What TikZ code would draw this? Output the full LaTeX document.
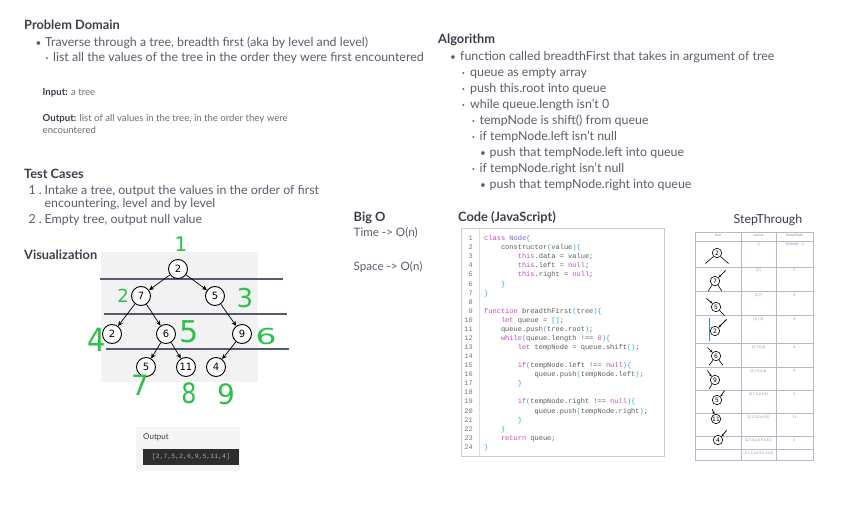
\documentclass[tikz,border=0pt]{standalone}
\usepackage{fontspec}
\setmainfont{Lato}
\newfontfamily\dejavu{DejaVu Sans}
\newfontfamily\monofam{Liberation Mono}
\usetikzlibrary{arrows.meta}
\definecolor{ink}{HTML}{3B3F4C}
\definecolor{bodyc}{HTML}{5A5E6C}
\definecolor{smallc}{HTML}{6A6E7A}
\definecolor{visbg}{HTML}{F2F2F2}
\definecolor{levc}{HTML}{555B6E}
\definecolor{hgreen}{HTML}{2CC04A}
\definecolor{kw}{HTML}{C24BC0}
\definecolor{cls}{HTML}{7B61D6}
\definecolor{br}{HTML}{2FA3D6}
\definecolor{codec}{HTML}{5A5A5A}
\definecolor{numc}{HTML}{777777}
\definecolor{codeborder}{HTML}{C9CBD0}
\definecolor{gridc}{HTML}{B4B8C8}
\definecolor{cellc}{HTML}{8A8E9A}
\definecolor{panelbg}{HTML}{F4F4F4}
\definecolor{darkbox}{HTML}{2D2D2D}
\definecolor{outtxt}{HTML}{9DB08A}
\definecolor{cursor}{HTML}{3A7BE0}
\newcommand\cf{\fontsize{7}{8}\selectfont\monofam}
\newcommand\K[1]{\textcolor{kw}{#1}}
\newcommand\B[1]{\textcolor{br}{#1}}
\newcommand\N[1]{\textcolor{cls}{#1}}
\begin{document}
\begin{tikzpicture}[x=1pt,y=-1pt,
 title/.style={anchor=base west,inner sep=0,font=\fontsize{12.8}{14}\selectfont\bfseries,text=ink},
 txt/.style={anchor=base west,inner sep=0,font=\fontsize{12.4}{14}\selectfont,text=bodyc},
 bul/.style={anchor=base,inner sep=0,font=\fontsize{10}{11}\selectfont,text=bodyc},
 small/.style={anchor=base west,inner sep=0,font=\fontsize{9.6}{11}\selectfont,text=smallc},
 code/.style={anchor=base west,inner sep=0,font=\cf,text=codec},
 lnum/.style={anchor=base east,inner sep=0,font=\cf,text=numc},
 tnode/.style={circle,draw=black,line width=0.9pt,fill=white,minimum size=19pt,inner sep=0,font=\fontsize{10}{10}\selectfont\dejavu},
 tedge/.style={-{Stealth[length=5pt,width=4.5pt]},line width=0.7pt},
 hand/.style={text=hgreen,inner sep=0,font=\dejavu},
 levline/.style={line width=1.6pt,draw=levc},
 cell/.style={inner sep=0,font=\fontsize{3.6}{4}\selectfont,text=cellc,anchor=base},
 mini/.style={circle,draw=black,line width=0.6pt,fill=white,minimum size=9.5pt,inner sep=0,font=\fontsize{6}{6}\selectfont\dejavu},
 stub/.style={line width=0.6pt},
 inarr/.style={{Stealth[length=2.5pt,width=2.5pt]}-,line width=0.7pt},
]
\useasboundingbox (0,0) rectangle (863,508);
\fill[white] (0,0) rectangle (863,508);

% ---------- Problem Domain ----------
\node[title] (pd) at (24,29.5) {Problem Domain};
\node[bul] (pdb1) at (38.5,46.5) {•};
\node[txt] (pd1) at (45,46.5) {Traverse through a tree, breadth first (aka by level and level)};
\node[bul] (pdb2) at (47,61.5) {\textbf{·}};
\node[txt] (pd2) at (53,61.5) {list all the values of the tree in the order they were first encountered};
\node[small] (inp) at (42.5,96) {\textbf{\textcolor{ink}{Input:}} a tree};
\node[small] (outp) at (42.5,121.5) {\textbf{\textcolor{ink}{Output:}} list of all values in the tree, in the order they were};
\node[small] (outp2) at (42.5,134) {encountered};

% ---------- Test Cases ----------
\node[title] (tc) at (24,178.3) {Test Cases};
\node[txt,anchor=base east] (tcn1) at (42,195) {1 .};
\node[txt] (tc1) at (44.5,195) {Intake a tree, output the values in the order of first};
\node[txt] (tc1b) at (44.5,207.7) {encountering, level and by level};
\node[txt,anchor=base east] (tcn2) at (42,224) {2 .};
\node[txt] (tc2) at (44.5,224) {Empty tree, output null value};

% ---------- Visualization ----------
\node[title] (vis) at (24,259.3) {Visualization};
\fill[visbg] (101,252) rectangle (258,382);
\draw[levline] (100,279) -- (283,279);
\draw[levline] (104,314) -- (287,314);
\draw[levline] (106,349) -- (289,349);
\node[tnode] (r) at (178,269) {2};
\node[tnode] (a) at (141,296) {7};
\node[tnode] (b) at (215,296) {5};
\node[tnode] (c) at (112,334) {2};
\node[tnode] (d) at (166,334) {6};
\node[tnode] (e) at (242,334) {9};
\node[tnode] (f) at (146,367) {5};
\node[tnode] (g) at (186,367) {11};
\node[tnode] (h) at (216,367) {4};
\draw[tedge] (r) -- (a);
\draw[tedge] (r) -- (b);
\draw[tedge] (a) -- (c);
\draw[tedge] (a) -- (d);
\draw[tedge] (b) -- (e);
\draw[tedge] (d) -- (f);
\draw[tedge] (d) -- (g);
\draw[tedge] (e) -- (h);
% handwritten order numbers
\node[hand,font=\fontsize{20}{20}\selectfont\dejavu] (h1) at (181,244) {1};
\node[hand,font=\fontsize{18}{18}\selectfont\dejavu] (h2) at (123,296) {2};
\node[hand,font=\fontsize{26}{26}\selectfont\dejavu] (h3) at (245,298) {3};
\node[hand,font=\fontsize{32}{32}\selectfont\dejavu,xscale=0.9] (h4) at (97,340) {4};
\node[hand,font=\fontsize{30}{30}\selectfont\dejavu] (h5) at (189,332) {5};
\node[hand,font=\fontsize{22}{22}\selectfont\dejavu,xscale=1.5] (h6) at (266,336) {6};
\node[hand,font=\fontsize{28}{28}\selectfont\dejavu] (h7) at (140,385) {7};
\node[hand,font=\fontsize{28}{28}\selectfont\dejavu,xscale=0.85] (h8) at (189,393) {8};
\node[hand,font=\fontsize{28}{28}\selectfont\dejavu] (h9) at (226,394) {9};

% ---------- Output panel ----------
\fill[panelbg] (136,427) rectangle (240,471);
\node[anchor=base west,inner sep=0,font=\fontsize{8}{10}\selectfont,text=ink] (outl) at (143,439.5) {Output};
\fill[darkbox] (143,449) rectangle (239,465);
\node[inner sep=0,font=\fontsize{6.5}{7}\selectfont\monofam,text=outtxt] (outv) at (191,457) {[2,7,5,2,6,9,5,11,4]};

% ---------- Algorithm ----------
\node[title] (alg) at (438,43.3) {Algorithm};
\node[bul] (ab1) at (453,61) {•};
\node[txt] (a1) at (460,61) {function called breadthFirst that takes in argument of tree};
\node[bul] (ab2) at (463.5,77) {\textbf{·}};
\node[txt] (a2) at (470,77) {queue as empty array};
\node[bul] (ab3) at (463.5,93) {\textbf{·}};
\node[txt] (a3) at (470,93) {push this.root into queue};
\node[bul] (ab4) at (463.5,109) {\textbf{·}};
\node[txt] (a4) at (470,109) {while queue.length isn't 0};
\node[bul] (ab5) at (473.5,125) {\textbf{·}};
\node[txt] (a5) at (479.5,125) {tempNode is shift() from queue};
\node[bul] (ab6) at (473.5,141) {\textbf{·}};
\node[txt] (a6) at (479.5,141) {if tempNode.left isn't null};
\node[bul] (ab7) at (483,157) {•};
\node[txt] (a7) at (489.5,157) {push that tempNode.left into queue};
\node[bul] (ab8) at (473.5,173) {\textbf{·}};
\node[txt] (a8) at (479.5,173) {if tempNode.right isn't null};
\node[bul] (ab9) at (483,189) {•};
\node[txt] (a9) at (489.5,189) {push that tempNode.right into queue};

% ---------- Big O ----------
\node[title] (bigo) at (353.5,221.7) {Big O};
\node[txt,font=\fontsize{11.6}{13}\selectfont] (time) at (353.5,236.7) {Time -> O(n)};
\node[txt,font=\fontsize{11.6}{13}\selectfont] (space) at (353.5,270) {Space -> O(n)};

% ---------- Code ----------
\node[title] (codet) at (458,222) {Code (JavaScript)};
\draw[codeborder,line width=0.8pt,fill=white] (461,228.3) rectangle (664,456.7);
\draw[codeborder!60,line width=0.5pt] (479,229) -- (479,456);
\foreach \i in {1,...,24} {
  \node[lnum] (ln\i) at (473,{240.7+9.07*(\i-1)}) {\i};
}
\node[code] (c1)  at (484,240.70) {\K{class} \N{Node}\B{\{}};
\node[code] (c2)  at (500.8,249.77) {constructor\B{(}value\B{)\{}};
\node[code] (c3)  at (517.6,258.84) {\K{this}.data = value;};
\node[code] (c4)  at (517.6,267.91) {\K{this}.left = \K{null};};
\node[code] (c5)  at (517.6,276.98) {\K{this}.right = \K{null};};
\node[code] (c6)  at (500.8,286.05) {\B{\}}};
\node[code] (c7)  at (484,295.12) {\B{\}}};
\node[code] (c9)  at (484,313.26) {\K{function} breadthFirst\B{(}tree\B{)\{}};
\node[code] (c10) at (500.8,322.33) {\K{let} queue = \B{[]};};
\node[code] (c11) at (500.8,331.40) {queue.push\B{(}tree.root\B{)};};
\node[code] (c12) at (500.8,340.47) {\K{while}\B{(}queue.length !== \K{0}\B{)\{}};
\node[code] (c13) at (517.6,349.54) {\K{let} tempNode = queue.shift\B{()};};
\node[code] (c15) at (517.6,367.68) {\K{if}\B{(}tempNode.left !== \K{null}\B{)\{}};
\node[code] (c16) at (534.4,376.75) {queue.push\B{(}tempNode.left\B{)};};
\node[code] (c17) at (517.6,385.82) {\B{\}}};
\node[code] (c19) at (517.6,403.96) {\K{if}\B{(}tempNode.right !== \K{null}\B{)\{}};
\node[code] (c20) at (534.4,413.03) {queue.push\B{(}tempNode.right\B{)};};
\node[code] (c21) at (517.6,422.10) {\B{\}}};
\node[code] (c22) at (500.8,431.17) {\B{\}}};
\node[code] (c23) at (500.8,440.24) {\K{return} queue;};
\node[code] (c24) at (484,449.31) {\B{\}}};

% ---------- StepThrough ----------
\node[anchor=base,inner sep=0,font=\fontsize{12.4}{14}\selectfont,text=ink] (stt) at (768,223.5) {StepThrough};
\foreach \yy in {241,267,291,315,343,367,390,413,436,449} {
  \draw[gridc,line width=0.6pt] (695,\yy) -- (813,\yy);
}
\foreach \xx in {741,776} {
  \draw[gridc,line width=0.6pt] (\xx,232) -- (\xx,460);
}
\draw[gridc,line width=0.9pt] (695,232) rectangle (813,460);
\node[cell] (hd1) at (718,236.5) {tree};
\node[cell] (hd2) at (758.5,236.5) {queue};
\node[cell] (hd3) at (794.5,236.5) {tempNode};
\node[cell] (q1) at (758.5,246) {[]};
\node[cell] (t1) at (794.5,246) {(Shifted) - 2};
\node[cell] (q2) at (758.5,272) {[2]};
\node[cell] (t2) at (794.5,272) {7};
\node[cell] (q3) at (758.5,296) {[2,7]};
\node[cell] (t3) at (794.5,296) {5};
\node[cell] (q4) at (758.5,320) {[2,7,5]};
\node[cell] (t4) at (794.5,320) {2};
\node[cell] (q5) at (758.5,348) {[2,7,5,2]};
\node[cell] (t5) at (794.5,348) {6};
\node[cell] (q6) at (758.5,372) {[2,7,5,2,6]};
\node[cell] (t6) at (794.5,372) {9};
\node[cell] (q7) at (758.5,395) {[2,7,5,2,6,9]};
\node[cell] (t7) at (794.5,395) {5};
\node[cell] (q8) at (758.5,418) {[2,7,5,2,6,9,5]};
\node[cell] (t8) at (794.5,418) {11};
\node[cell] (q9) at (758.5,441) {[2,7,5,2,6,9,5,11]};
\node[cell] (t9) at (794.5,441) {4};
\node[cell] (q10) at (758.5,454) {[2,7,5,2,6,9,5,11,4]};
% mini trees
\node[mini] (m1) at (717,253) {2};
\draw[stub] (m1.225) -- ++(-8,7);
\draw[stub] (m1.315) -- ++(8,7);
\node[mini] (m2) at (715,281) {7};
\draw[inarr] (m2.45) -- ++(7,-7);
\draw[stub] (m2.235) -- ++(-4,6);
\draw[stub] (m2.305) -- ++(4,6);
\node[mini] (m3) at (716,307) {5};
\draw[inarr] (m3.135) -- ++(-6,-5);
\draw[stub] (m3.315) -- ++(5,5);
\node[mini] (m4) at (715,331) {2};
\draw[inarr,line width=0.9pt] (m4.45) -- ++(8,-8);
\draw[cursor,line width=0.8pt] (709,318) -- (709,341);
\node[mini] (m5) at (716,356) {6};
\draw[inarr] (m5.135) -- ++(-5,-5);
\draw[stub] (m5.235) -- ++(-4,5);
\draw[stub] (m5.305) -- ++(4,5);
\node[mini] (m6) at (715,380) {9};
\draw[inarr] (m6.135) -- ++(-4,-6);
\draw[stub] (m6.235) -- ++(-3,5);
\node[mini] (m7) at (717,400) {5};
\draw[inarr] (m7.45) -- ++(4,-6);
\node[mini] (m8) at (716,419) {11};
\draw[inarr] (m8.110) -- ++(-2,-5);
\node[mini] (m9) at (718,440) {4};
\draw[inarr] (m9.45) -- ++(5,-6);
\end{tikzpicture}
\end{document}
